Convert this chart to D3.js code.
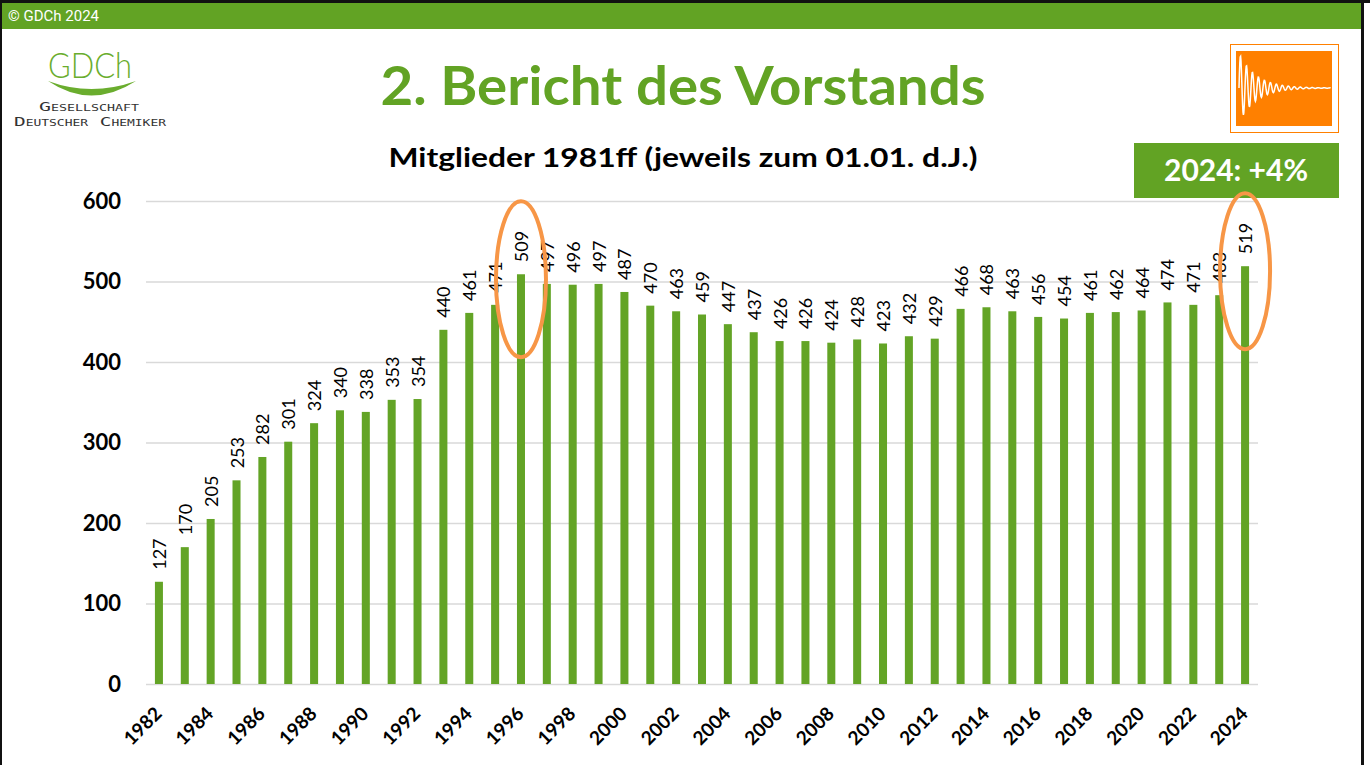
<!DOCTYPE html>
<meta charset="utf-8">
<title>Mitglieder 1981ff</title>
<style>
body { margin: 0; background: #fff; }
svg { display: block; }
text { font-family: Lato, "Open Sans", sans-serif; }
</style>
<body></body>
<script src="https://d3js.org/d3.v7.min.js"></script>
<script>
var years = ['1982', '1983', '1984', '1985', '1986', '1987', '1988', '1989', '1990', '1991',
  '1992', '1993', '1994', '1995', '1996', '1997', '1998', '1999', '2000', '2001',
  '2002', '2003', '2004', '2005', '2006', '2007', '2008', '2009', '2010', '2011',
  '2012', '2013', '2014', '2015', '2016', '2017', '2018', '2019', '2020', '2021',
  '2022', '2023', '2024'];
var members = [127, 170, 205, 253, 282, 301, 324, 340, 338, 353,
  354, 440, 461, 471, 509, 497, 496, 497, 487, 470,
  463, 459, 447, 437, 426, 426, 424, 428, 423, 432,
  429, 466, 468, 463, 456, 454, 461, 462, 464, 474,
  471, 483, 519];
var yTicks = [0, 100, 200, 300, 400, 500, 600];
var xTickLabels = ['1982', '1984', '1986', '1988', '1990', '1992', '1994', '1996', '1998', '2000',
  '2002', '2004', '2006', '2008', '2010', '2012', '2014', '2016', '2018', '2020', '2022', '2024'];
var highlighted = ['1996', '2024'];

var width = 1370, height = 765;
var green = '#62a324', barGreen = '#63a426', orange = '#f79646';

var svg = d3.select('body').append('svg')
  .attr('width', width)
  .attr('height', height);

// slide frame + header bar
svg.append('rect').attr('x', 0).attr('y', 0).attr('width', width).attr('height', 3).style('fill', '#111');
svg.append('rect').attr('x', 0).attr('y', 0).attr('width', 2).attr('height', height).style('fill', '#111');
svg.append('rect').attr('x', 2).attr('y', 3).attr('width', 1359).attr('height', 26).style('fill', green);
svg.append('rect').attr('x', 1361).attr('y', 0).attr('width', 3).attr('height', height).style('fill', '#111');
svg.append('text').attr('x', 8).attr('y', 21).text('\u00a9 GDCh 2024')
  .style('fill', '#fff').style('font-size', '15px').style('font-family', 'Roboto, sans-serif');

// logo
var logo = svg.append('g');
logo.append('text').attr('x', 90).attr('y', 78).attr('text-anchor', 'middle')
  .text('GDCh').style('fill', '#6aad2e').style('font-size', '36px')
  .style('font-weight', 300).style('font-family', 'Lato, sans-serif')
  .attr('textLength', 84).attr('lengthAdjust', 'spacingAndGlyphs');
logo.append('path')
  .attr('d', 'M48,81 Q91,110 136,81 Q91,97 48,81 Z')
  .style('fill', '#6aad2e');
logo.append('text').attr('x', 89).attr('y', 111).attr('text-anchor', 'middle')
  .text('Gesellschaft').style('font-variant', 'small-caps').style('fill', '#333')
  .style('font-size', '12px').style('font-family', '"DejaVu Sans Mono", monospace')
  .attr('textLength', 100).attr('lengthAdjust', 'spacingAndGlyphs');
logo.append('text').attr('x', 90).attr('y', 126).attr('text-anchor', 'middle')
  .text('Deutscher Chemiker').style('font-variant', 'small-caps').style('fill', '#333')
  .style('font-size', '12px').style('font-family', '"DejaVu Sans Mono", monospace')
  .attr('textLength', 152).attr('lengthAdjust', 'spacingAndGlyphs');

// orange icon
var icon = svg.append('g');
icon.append('rect').attr('x', 1230.5).attr('y', 44.5).attr('width', 108).attr('height', 88)
  .style('fill', '#fff').style('stroke', '#ff8000');
icon.append('rect').attr('x', 1236).attr('y', 51).attr('width', 96).attr('height', 75).style('fill', '#ff8000');
var wave = d3.range(0, 92, 0.4).map(function (t) {
  return [1239 + t, 88 - 35 * Math.exp(-t / 17) * Math.sin(t * 1.05)];
});
icon.append('path').attr('d', d3.line()(wave))
  .style('fill', 'none').style('stroke', '#fff').style('stroke-width', 1.5);

// titles
svg.append('text').attr('x', 683).attr('y', 105).attr('text-anchor', 'middle')
  .text('2. Bericht des Vorstands')
  .style('fill', green).style('font-weight', 700).style('font-size', '54px')
  .attr('textLength', 605).attr('lengthAdjust', 'spacingAndGlyphs');
svg.append('text').attr('x', 683).attr('y', 167).attr('text-anchor', 'middle')
  .text('Mitglieder 1981ff (jeweils zum 01.01. d.J.)')
  .style('fill', '#000').style('font-weight', 700).style('font-size', '26px')
  .attr('textLength', 589).attr('lengthAdjust', 'spacingAndGlyphs');

// badge
svg.append('rect').attr('x', 1134).attr('y', 143).attr('width', 205).attr('height', 55).style('fill', green);
svg.append('text').attr('x', 1236).attr('y', 181).attr('text-anchor', 'middle')
  .text('2024: +4%').style('fill', '#fff').style('font-weight', 700).style('font-size', '30px');

// chart
var x = d3.scaleBand().domain(years).range([146, 1258]).paddingInner(0.69).paddingOuter(0.345);
var y = d3.scaleLinear().domain([0, 600]).range([684, 201]);

var yAxis = svg.append('g')
  .attr('transform', 'translate(146,0)')
  .call(d3.axisLeft(y).tickValues(yTicks).tickSize(-1112).tickPadding(25));
yAxis.select('.domain').remove();
yAxis.selectAll('.tick line').style('stroke', '#d9d9d9').style('stroke-width', 1.5);
yAxis.selectAll('.tick text')
  .style('font-family', 'Lato, sans-serif').style('font-size', '22px')
  .style('font-weight', 700).style('fill', '#000');

svg.append('g').selectAll('rect')
  .data(members)
  .enter()
  .append('rect')
  .attr('x', function (d, i) { return x(years[i]); })
  .attr('y', function (d) { return y(d); })
  .attr('width', x.bandwidth())
  .attr('height', function (d) { return y(0) - y(d); })
  .style('fill', barGreen);

svg.append('g').selectAll('text')
  .data(members)
  .enter()
  .append('text')
  .attr('transform', function (d, i) {
    return 'translate(' + (x(years[i]) + x.bandwidth() / 2 + 7) + ',' + (y(d) - 12) + ') rotate(-90)';
  })
  .text(function (d) { return d; })
  .style('font-size', '18px').style('fill', '#000');

var xAxis = svg.append('g')
  .attr('transform', 'translate(0,684)')
  .call(d3.axisBottom(x).tickValues(xTickLabels).tickSize(0).tickPadding(0));
xAxis.select('.domain').remove();
xAxis.selectAll('.tick text')
  .attr('text-anchor', 'end')
  .attr('dy', null)
  .attr('transform', 'translate(4,31) rotate(-45)')
  .style('font-family', 'Lato, sans-serif').style('font-size', '19px')
  .style('font-weight', 700).style('fill', '#000');

svg.append('g').selectAll('ellipse')
  .data(highlighted)
  .enter()
  .append('ellipse')
  .attr('cx', function (d) { return x(d) + x.bandwidth() / 2; })
  .attr('cy', function (d) { return y(members[years.indexOf(d)]) + 5; })
  .attr('rx', 25)
  .attr('ry', 78)
  .style('fill', 'none').style('stroke', orange).style('stroke-width', 4);
</script>
